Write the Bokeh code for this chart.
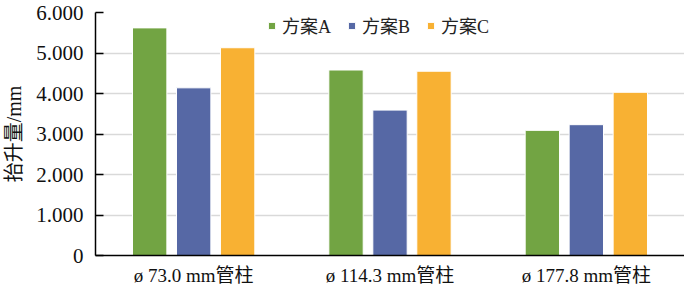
from bokeh.plotting import figure
from bokeh.models import FactorRange, Legend, LegendItem, ColumnDataSource
from bokeh.transform import dodge
from bokeh.embed import file_html
from bokeh.resources import INLINE

categories = ["ø 73.0 mm管柱", "ø 114.3 mm管柱", "ø 177.8 mm管柱"]
series_names = ["方案A", "方案B", "方案C"]
plan_a = [5.62, 4.58, 3.09]
plan_b = [4.14, 3.59, 3.23]
plan_c = [5.13, 4.55, 4.03]
y_ticks = [0, 1, 2, 3, 4, 5, 6]
y_tick_labels = ["0", "1.000", "2.000", "3.000", "4.000", "5.000", "6.000"]
colors = ["#72A443", "#5668A5", "#F8B133"]

FONT = "'Liberation Serif', 'Noto Sans CJK SC'"

src = ColumnDataSource(dict(cat=categories, a=plan_a, b=plan_b, c=plan_c))

p = figure(width=684, height=288, x_range=FactorRange(*categories, range_padding=0),
           y_range=(0, 6), output_backend="svg", toolbar_location=None,
           min_border_left=88, min_border_right=0, min_border_top=12, min_border_bottom=0)

renderers = []
for key, off, col in zip(["a", "b", "c"], [-0.224, 0.0, 0.224], colors):
    r = p.vbar(x=dodge("cat", off, range=p.x_range), top=key, width=0.175, source=src,
               fill_color=col, line_color="white", line_width=1)
    renderers.append(r)

legend = Legend(items=[LegendItem(label=n, renderers=[r]) for n, r in zip(series_names, renderers)],
                orientation="horizontal", location=(172, 217))
legend.border_line_color = None
legend.background_fill_alpha = 0
legend.label_text_font = FONT
legend.label_text_font_size = "18px"
legend.label_text_color = "#222222"
legend.label_height = 18
legend.glyph_width = 9
legend.glyph_height = 9
legend.spacing = 16
legend.label_standoff = 6
legend.padding = 0
legend.margin = 0
p.add_layout(legend)

p.outline_line_color = None
p.xgrid.grid_line_color = None
p.ygrid.grid_line_color = "#d9d9d9"
p.ygrid.grid_line_width = 1.5
p.yaxis.ticker = y_ticks
p.yaxis.major_label_overrides = {t: l for t, l in zip(y_ticks, y_tick_labels)}
p.yaxis.major_tick_in = 8
p.yaxis.major_tick_out = 0
p.yaxis.minor_tick_line_color = None
p.yaxis.axis_line_color = "black"
p.yaxis.axis_line_width = 1.5
p.yaxis.major_tick_line_width = 1.5
p.yaxis.major_label_text_font = FONT
p.yaxis.major_label_text_font_size = "21px"
p.yaxis.major_label_text_color = "#111111"
p.yaxis.major_label_standoff = 12
p.yaxis.axis_label = "抬升量/mm"
p.yaxis.axis_label_text_font = FONT
p.yaxis.axis_label_text_font_size = "20px"
p.yaxis.axis_label_text_font_style = "normal"
p.yaxis.axis_label_text_color = "#111111"
p.yaxis.axis_label_standoff = 8

p.xaxis.major_tick_line_color = None
p.xaxis.major_tick_in = 0
p.xaxis.major_tick_out = 0
p.xaxis.minor_tick_line_color = None
p.xaxis.axis_line_color = "black"
p.xaxis.axis_line_width = 1.5
p.xaxis.major_label_text_font = FONT
p.xaxis.major_label_text_font_size = "19px"
p.xaxis.major_label_text_color = "#111111"
p.xaxis.major_label_standoff = 9

open("out.html", "w").write(file_html(p, INLINE))
